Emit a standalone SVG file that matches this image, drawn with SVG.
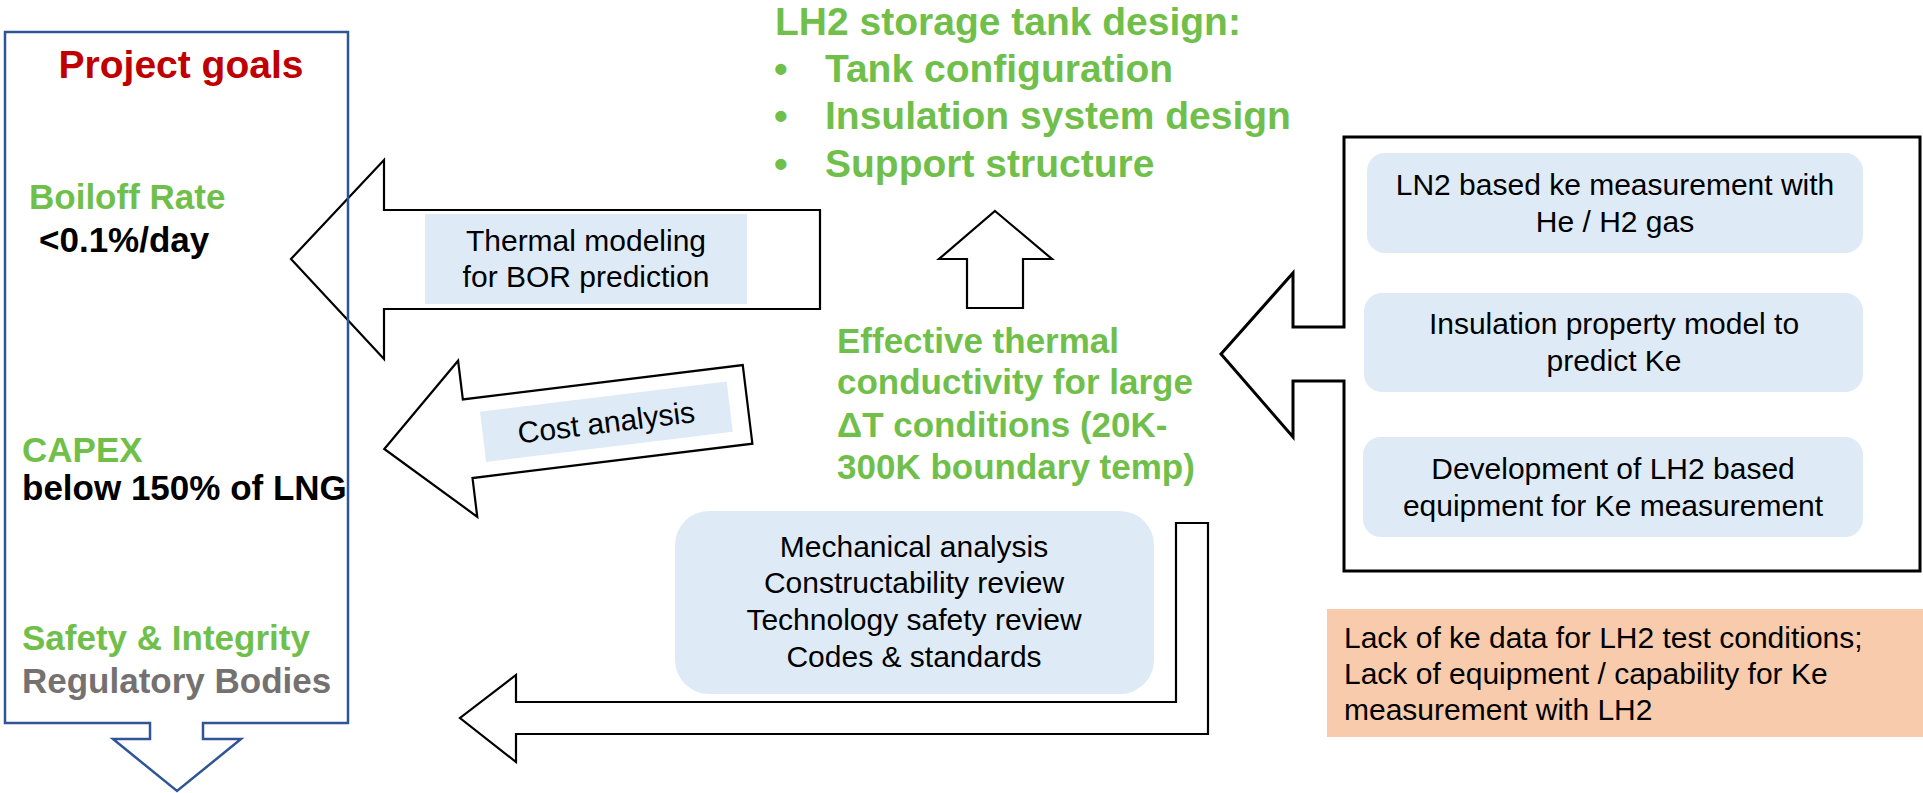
<svg xmlns="http://www.w3.org/2000/svg" width="1923" height="793" viewBox="0 0 1923 793">
<style>
.f{font-family:"Liberation Sans",Arial,sans-serif}
.b{font-weight:bold}
.g{fill:#71BF4B}
.k{fill:#000}
.t30{font-size:30px}
.arrow{fill:#fff;stroke:#000;stroke-width:2.2;stroke-linejoin:miter}
.lb{fill:#DEEBF7}
</style>
<rect width="1923" height="793" fill="#fff"/>

<g id="connectors">
  <polygon id="arrow-thermal" class="arrow" points="291,259 384,160 384,210 820,210 820,309 384,309 384,359"/>
  <polygon id="arrow-cost" class="arrow" transform="translate(384.3,449) rotate(-7)" points="0,0 84,-78.6 84,-39.6 366,-39.6 366,39.6 84,39.6 84,78.6"/>
  <polygon id="arrow-up" class="arrow" points="995,211 1052,259 1023,259 1023,308 967,308 967,259 939,259"/>
  <path id="arrow-bent" class="arrow" d="M1176,523 L1208,523 L1208,734 L516,734 L516,762 L460,718 L516,675 L516,702 L1176,702 Z"/>
</g>

<g id="project-goals">
  <path d="M5,32 L348,32 L348,723 L203,723 L203,739 L241,739 L177,791 L113,739 L150,739 L150,723 L5,723 Z" fill="none" stroke="#2F5597" stroke-width="2.5"/>
  <text class="f b" x="181" y="78" font-size="39" fill="#C00000" text-anchor="middle">Project goals</text>
  <text class="f b g" x="29" y="209" font-size="35">Boiloff Rate</text>
  <text class="f b k" x="39" y="252" font-size="35">&lt;0.1%/day</text>
  <text class="f b g" x="22" y="462" font-size="35">CAPEX</text>
  <text class="f b k" x="22" y="500" font-size="35">below 150% of LNG</text>
  <text class="f b g" x="22" y="650" font-size="35">Safety &amp; Integrity</text>
  <text class="f b" x="22" y="693" font-size="35" fill="#767171">Regulatory Bodies</text>
</g>

<g id="thermal-modeling">
  <rect class="lb" x="425" y="214" width="322" height="90"/>
  <text class="f t30 k" text-anchor="middle"><tspan x="586" y="251">Thermal modeling</tspan><tspan x="586" y="287">for BOR prediction</tspan></text>
</g>

<g id="cost-analysis" transform="translate(384.3,449) rotate(-7)">
  <rect class="lb" x="99.5" y="-25.3" width="248.5" height="50.6"/>
  <text class="f t30 k" x="223.5" y="11" text-anchor="middle">Cost analysis</text>
</g>

<g id="tank-design">
  <text class="f b g" font-size="39">
    <tspan x="775" y="35">LH2 storage tank design:</tspan>
  </text>
  <text class="f b g" font-size="39"><tspan x="774" y="82">•</tspan><tspan x="825" y="82">Tank configuration</tspan></text>
  <text class="f b g" font-size="39"><tspan x="774" y="129">•</tspan><tspan x="825" y="129">Insulation system design</tspan></text>
  <text class="f b g" font-size="39"><tspan x="774" y="177">•</tspan><tspan x="825" y="177">Support structure</tspan></text>
</g>

<g id="effective-conductivity">
  <text class="f b g" font-size="35"><tspan x="837" y="353">Effective thermal</tspan><tspan x="837" y="394">conductivity for large</tspan><tspan x="837" y="437">ΔT conditions (20K-</tspan><tspan x="837" y="479">300K boundary temp)</tspan></text>
</g>

<g id="measurement-panel">
  <path d="M1344,137 L1920,137 L1920,571 L1344,571 L1344,381 L1293,381 L1293,437 L1221,354 L1293,273 L1293,327 L1344,327 Z" fill="#fff" stroke="#000" stroke-width="3"/>
  <g id="ln2-measurement">
    <rect class="lb" x="1367" y="153" width="496" height="100" rx="18"/>
    <text class="f t30 k" text-anchor="middle"><tspan x="1615" y="195">LN2 based ke measurement with</tspan><tspan x="1615" y="232">He / H2 gas</tspan></text>
  </g>
  <g id="insulation-model">
    <rect class="lb" x="1364" y="293" width="499" height="99" rx="18"/>
    <text class="f t30 k" text-anchor="middle"><tspan x="1614" y="334">Insulation property model to</tspan><tspan x="1614" y="371">predict Ke</tspan></text>
  </g>
  <g id="lh2-equipment">
    <rect class="lb" x="1363" y="437" width="500" height="100" rx="18"/>
    <text class="f t30 k" text-anchor="middle"><tspan x="1613" y="479">Development of LH2 based</tspan><tspan x="1613" y="516">equipment for Ke measurement</tspan></text>
  </g>
</g>

<g id="mechanical-review">
  <rect class="lb" x="675" y="511" width="479" height="183" rx="34"/>
  <text class="f t30 k" text-anchor="middle"><tspan x="914" y="557">Mechanical analysis</tspan><tspan x="914" y="593">Constructability review</tspan><tspan x="914" y="630">Technology safety review</tspan><tspan x="914" y="667">Codes &amp; standards</tspan></text>
</g>

<g id="gap-note">
  <rect x="1327" y="609" width="596" height="128" fill="#F8CBAD"/>
  <text class="f t30 k"><tspan x="1344" y="648">Lack of ke data for LH2 test conditions;</tspan><tspan x="1344" y="684">Lack of equipment / capability for Ke</tspan><tspan x="1344" y="720">measurement with LH2</tspan></text>
</g>
</svg>
